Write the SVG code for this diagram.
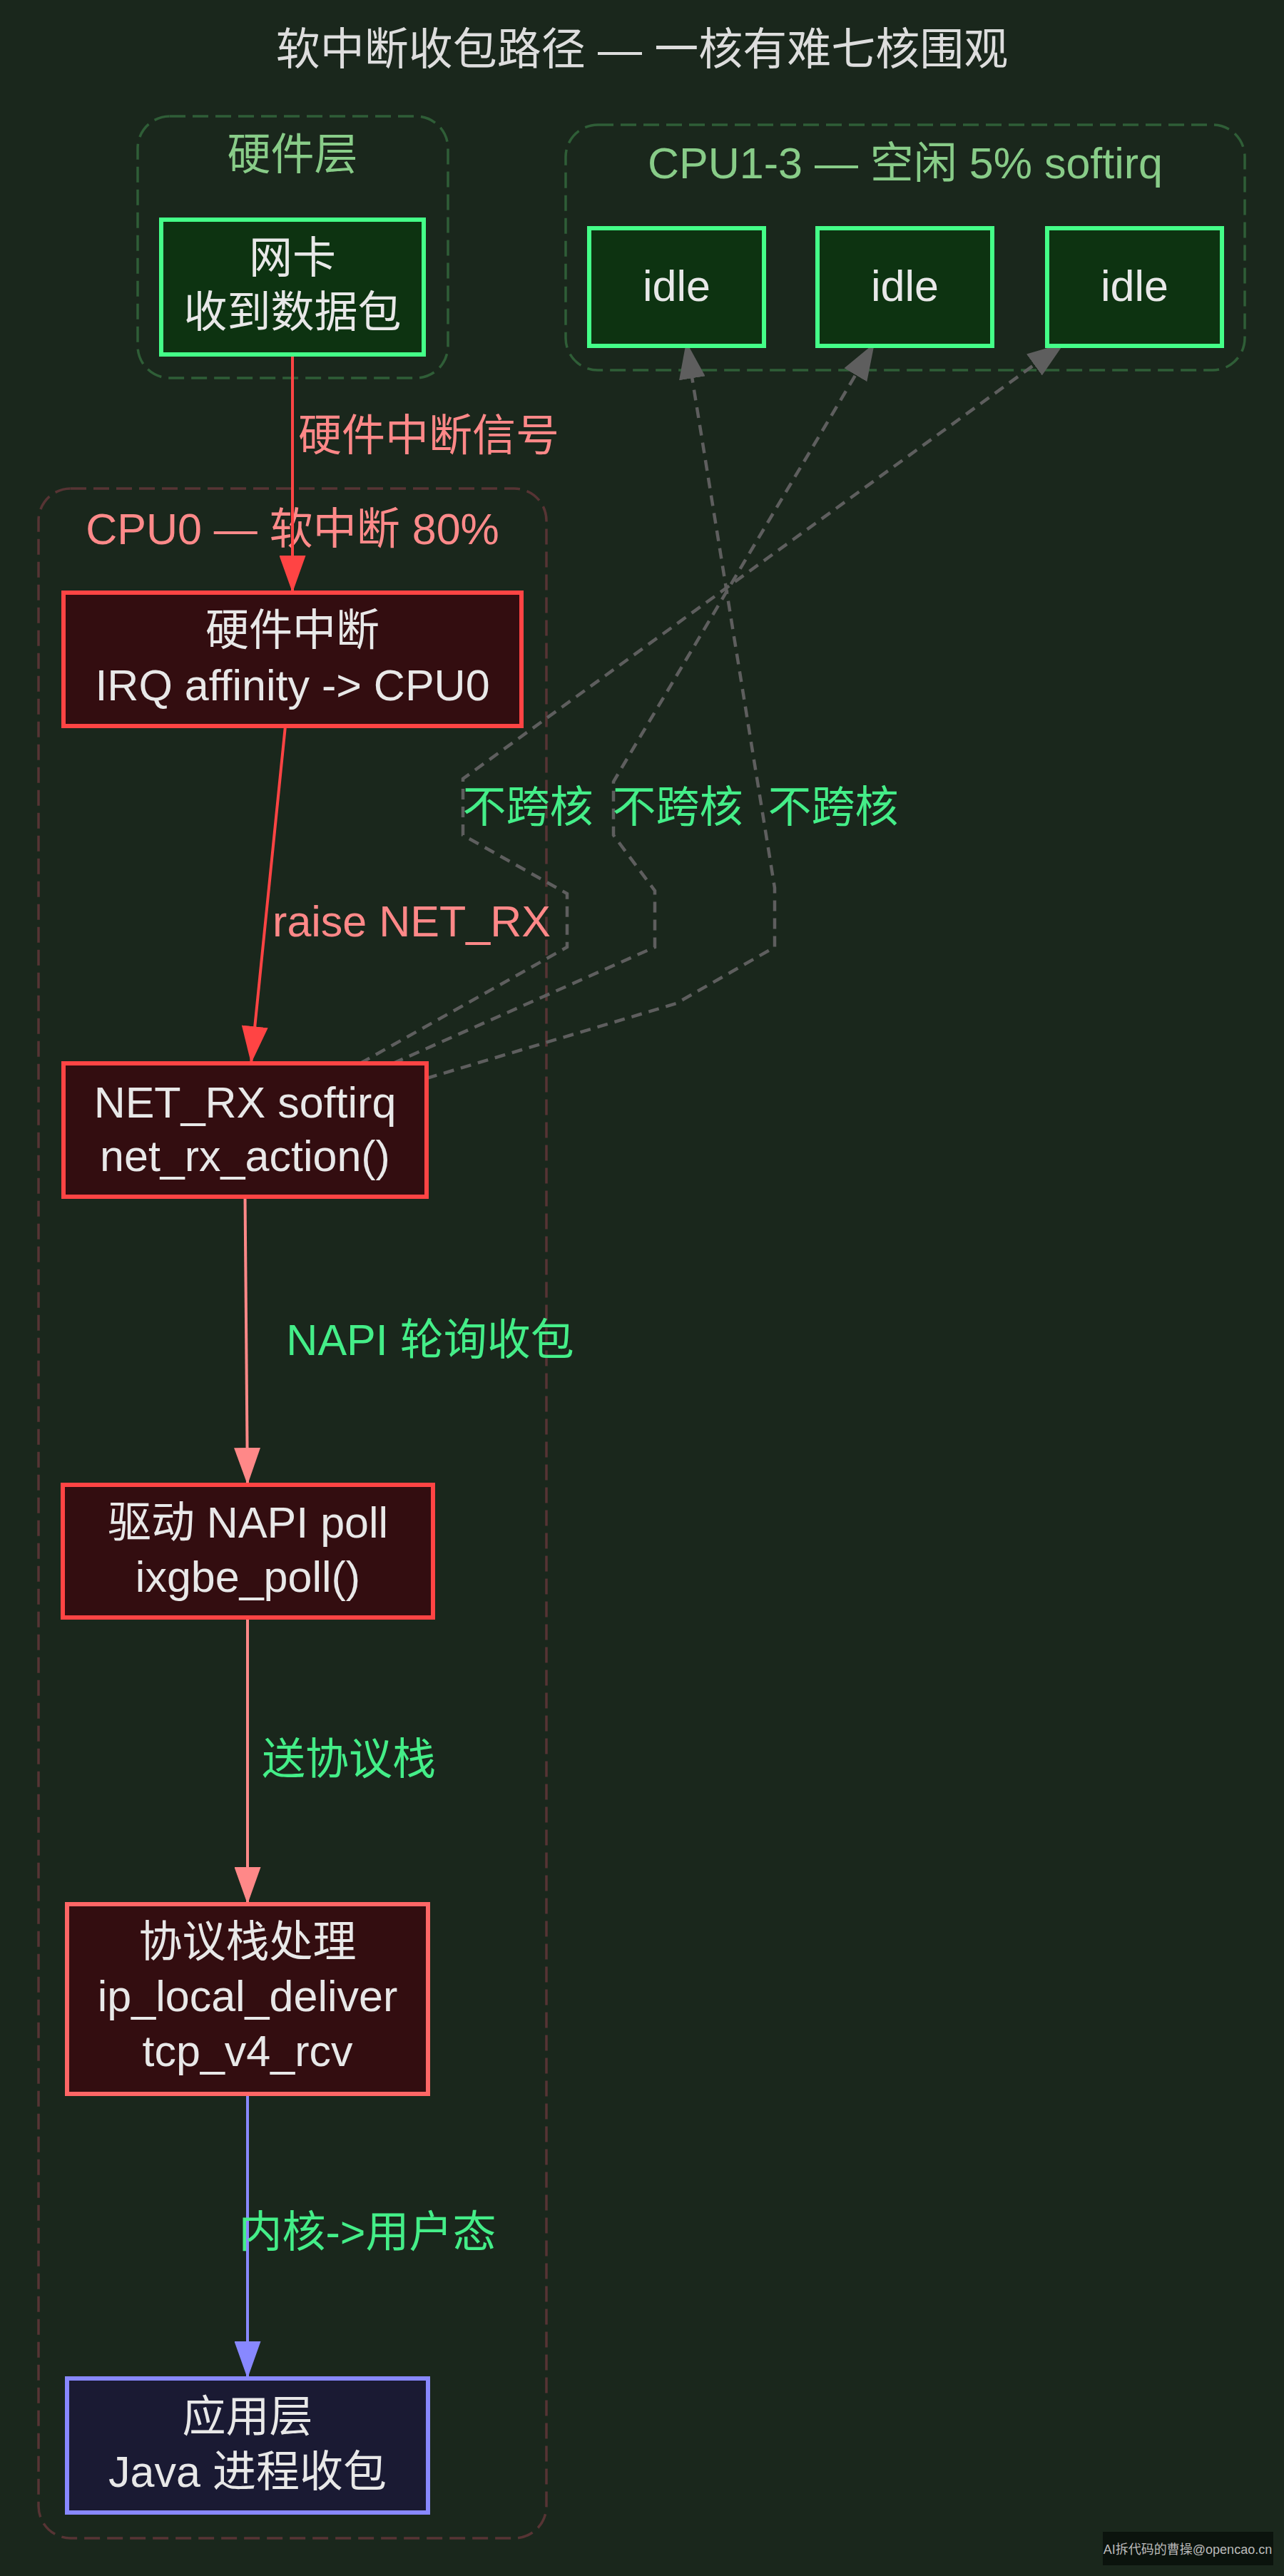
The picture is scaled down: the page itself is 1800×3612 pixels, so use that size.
<svg xmlns="http://www.w3.org/2000/svg" width="1800" height="3612" viewBox="0 0 1800 3612">
<style>
text{font-family:"Liberation Sans","Noto Sans CJK SC",sans-serif;font-size:61px;text-anchor:middle}
.title{fill:#dddddd;font-size:62px}
.cl{fill:none;stroke-width:3.5;stroke-dasharray:22 10}
.clg{stroke:#2f5e37}
.clr{stroke:#573434}
.lg{fill:#88cc88}
.lr{fill:#ff8a8a}
.ng rect{fill:#0d3311;stroke:#44ff88;stroke-width:6}
.nr rect{fill:#330d10;stroke:#ff4444;stroke-width:6}
.nr2 rect{fill:#330d10;stroke:#ff6666;stroke-width:6}
.nb rect{fill:#1a1a33;stroke:#8888ff;stroke-width:6}
.nt{fill:#e8e8e8}
.e{fill:none;stroke-width:4}
.ed{fill:none;stroke:#5e5e5e;stroke-width:4.5;stroke-dasharray:15 10}
.elr{fill:#ff8888}
.elg{fill:#44ee88}
</style>
<defs>
<marker id="ar" markerUnits="userSpaceOnUse" markerWidth="52" markerHeight="37" refX="52" refY="18.5" orient="auto"><path d="M0,0 L52,18.5 L0,37 z" fill="#ff4444"/></marker>
<marker id="as" markerUnits="userSpaceOnUse" markerWidth="52" markerHeight="37" refX="52" refY="18.5" orient="auto"><path d="M0,0 L52,18.5 L0,37 z" fill="#ff8888"/></marker>
<marker id="ab" markerUnits="userSpaceOnUse" markerWidth="52" markerHeight="37" refX="52" refY="18.5" orient="auto"><path d="M0,0 L52,18.5 L0,37 z" fill="#8888ff"/></marker>
<marker id="ag" markerUnits="userSpaceOnUse" markerWidth="52" markerHeight="37" refX="52" refY="18.5" orient="auto"><path d="M0,0 L52,18.5 L0,37 z" fill="#5e5e5e"/></marker>
</defs>
<rect x="0" y="0" width="1800" height="3612" fill="#1a271c"/>
<text class="title" x="900" y="91">软中断收包路径 — 一核有难七核围观</text>

<g id="cluster-hw">
<rect class="cl clg" x="193" y="163" width="435" height="367" rx="45"/>
<text class="lg" x="410" y="238">硬件层</text>
</g>
<g id="cluster-idle">
<rect class="cl clg" x="793" y="175" width="952" height="344" rx="45"/>
<text class="lg" x="1269" y="250">CPU1-3 — 空闲 5% softirq</text>
</g>
<g id="cluster-cpu0">
<rect class="cl clr" x="54" y="685" width="712" height="2874" rx="45"/>
<text class="lr" x="410" y="763">CPU0 — 软中断 80%</text>
</g>

<g id="connectors">
<line class="e" x1="410" y1="497" x2="410" y2="831" stroke="#ff4444" marker-end="url(#ar)"/>
<line class="e" x1="400" y1="1018" x2="352" y2="1491" stroke="#ff4444" marker-end="url(#ar)"/>
<line class="e" x1="343.5" y1="1678" x2="347" y2="2082" stroke="#ff8888" marker-end="url(#as)"/>
<line class="e" x1="347" y1="2268" x2="347" y2="2670" stroke="#ff8888" marker-end="url(#as)"/>
<line class="e" x1="347" y1="2936" x2="347" y2="3335" stroke="#8888ff" marker-end="url(#ab)"/>
<path class="ed" d="M505,1491 L795,1328 L795,1253 L649,1171 L649,1092 L1492,481" marker-end="url(#ag)"/>
<path class="ed" d="M551,1491 L918,1328 L918,1249 L860,1171 L860,1096 L1226,481" marker-end="url(#ag)"/>
<path class="ed" d="M598,1512 L948,1407 L1086,1328 L1086,1245 L962,479" marker-end="url(#ag)"/>
<text class="elr" x="601" y="632">硬件中断信号</text>
<text class="elr" x="577" y="1313">raise NET_RX</text>
<text class="elg" x="603" y="1900">NAPI 轮询收包</text>
<text class="elg" x="489" y="2488">送协议栈</text>
<text class="elg" x="515" y="3151">内核-&gt;用户态</text>
<text class="elg" x="740" y="1153">不跨核</text>
<text class="elg" x="950" y="1153">不跨核</text>
<text class="elg" x="1168" y="1153">不跨核</text>
</g>

<g id="nic" class="ng">
<rect x="226" y="308" width="368" height="189"/>
<text class="nt" x="410" y="383">网卡</text>
<text class="nt" x="410" y="459">收到数据包</text>
</g>
<g id="idle1" class="ng">
<rect x="826" y="320" width="245" height="165"/>
<text class="nt" x="948.5" y="422">idle</text>
</g>
<g id="idle2" class="ng">
<rect x="1146" y="320" width="245" height="165"/>
<text class="nt" x="1268.5" y="422">idle</text>
</g>
<g id="idle3" class="ng">
<rect x="1468" y="320" width="245" height="165"/>
<text class="nt" x="1590.5" y="422">idle</text>
</g>
<g id="hardirq" class="nr">
<rect x="89" y="831" width="642" height="187"/>
<text class="nt" x="410" y="905">硬件中断</text>
<text class="nt" x="410" y="982">IRQ affinity -&gt; CPU0</text>
</g>
<g id="netrx" class="nr">
<rect x="89" y="1491" width="509" height="187"/>
<text class="nt" x="343.5" y="1567">NET_RX softirq</text>
<text class="nt" x="343.5" y="1642">net_rx_action()</text>
</g>
<g id="napi" class="nr">
<rect x="88" y="2082" width="519" height="186"/>
<text class="nt" x="347.5" y="2156">驱动 NAPI poll</text>
<text class="nt" x="347.5" y="2232">ixgbe_poll()</text>
</g>
<g id="stack" class="nr2">
<rect x="94" y="2670" width="506" height="266"/>
<text class="nt" x="347" y="2744">协议栈处理</text>
<text class="nt" x="347" y="2820">ip_local_deliver</text>
<text class="nt" x="347" y="2897">tcp_v4_rcv</text>
</g>
<g id="app" class="nb">
<rect x="94" y="3335" width="506" height="188"/>
<text class="nt" x="347" y="3410">应用层</text>
<text class="nt" x="347" y="3487">Java 进程收包</text>
</g>

<g id="watermark">
<rect x="1546" y="3550" width="239" height="47" fill="#0b130d"/>
<text x="1665" y="3581" style="font-size:18px;fill:#bbbbbb">AI拆代码的曹操@opencao.cn</text>
</g>
</svg>
